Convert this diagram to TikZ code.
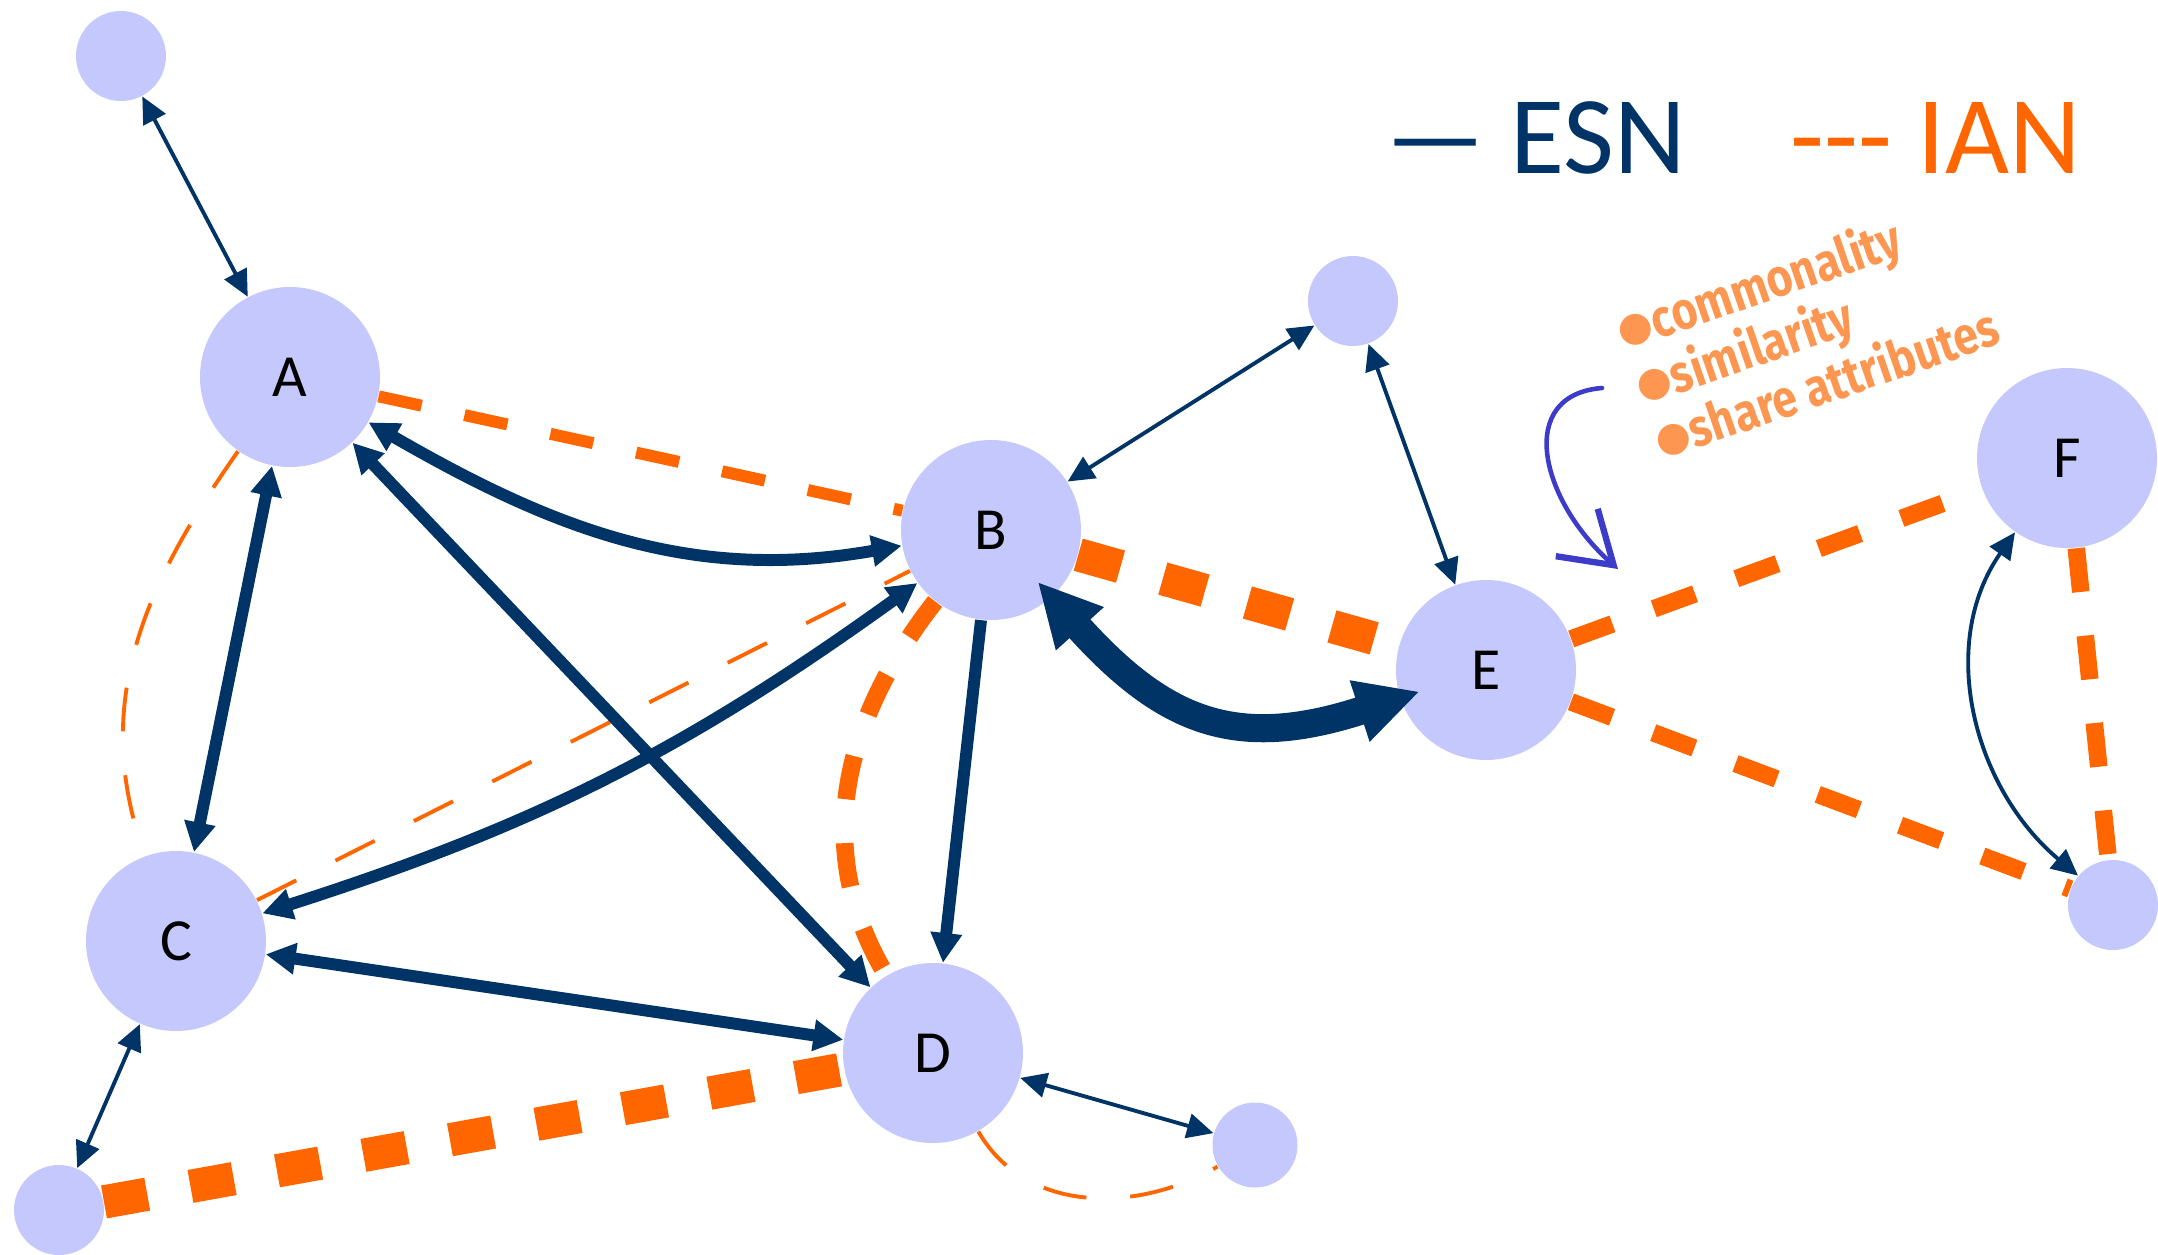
\documentclass[tikz,border=0pt]{standalone}
\usepackage{fontspec}
\setmainfont{Carlito}
\newfontfamily\notefont[FakeStretch=0.84]{Fira Sans}
\newfontfamily\dotfont{DejaVu Sans}
\usepackage{tikz}
\usetikzlibrary{arrows.meta,backgrounds}
\definecolor{snNavy}  {RGB}{  0, 51,102}
\definecolor{snOrange}{RGB}{255,102,  0}
\definecolor{snNode}  {RGB}{197,200,253}
\definecolor{snNote}  {RGB}{253,150, 80}
\definecolor{snPen}   {RGB}{ 60, 60,200}
\newcommand{\notedot}{\raisebox{0.1em}{\dotfont\fontsize{11.5}{11}\selectfont ●}}

\begin{document}
\begin{tikzpicture}[
  every node/.style={font=\fontsize{17}{20}\selectfont},
  actor/.style={circle,fill=snNode,inner sep=0pt,minimum size=1.8cm},
  leaf/.style={actor,minimum size=0.9cm},
  esnthin/.style={draw=snNavy,line width=1.1pt,<->,
                  >={Triangle[length=7.5pt,width=7pt]}},
  esn/.style={draw=snNavy,line width=3.4pt,<->,
              >={Triangle[length=8.5pt,width=8.5pt]}},
  esnfat/.style={draw=snNavy,line width=8pt,<->,
                 >={Triangle[length=18pt,width=17pt]},
                 shorten <=-6pt,shorten >=-6pt},
  ian/.style={draw=snOrange,dash pattern=on 12.5pt off 12.5pt,line width=3.4pt},
  ianthin/.style={ian,line width=1.1pt},
  ianmid/.style={ian,line width=5pt},
  ianfat/.style={ian,line width=9.5pt},
  legend/.style={font=\fontsize{31.5}{36}\selectfont,anchor=base west,inner sep=0pt},
  note/.style={text=snNote,align=left,inner sep=0pt,
               font=\notefont\bfseries\fontsize{15}{15}\selectfont},
  pen/.style={draw=snPen,line width=1.3pt,line cap=round,
              -{Straight Barb[length=14pt,width=18pt,line width=1.8pt]}}
]
\useasboundingbox (0,0) rectangle (21.58,-12.55);
% legend
\node[legend,text=snNavy]   (esnkey) at (13.85,-1.73) {— ESN};
\node[legend,text=snOrange] (iankey) at (17.90,-1.73) {-{}-{}- IAN};
% actors
\node[actor] (A) at (2.90,-3.77)   {A};
\node[actor] (B) at (9.91,-5.30)   {B};
\node[actor] (C) at (1.76,-9.41)   {C};
\node[actor] (D) at (9.33,-10.53)  {D};
\node[actor] (E) at (14.86,-6.70)  {E};
\node[actor] (F) at (20.67,-4.58)  {F};
\node[leaf]  (lA)  at (1.21,-0.56)  {};
\node[leaf]  (lBE) at (13.53,-3.01) {};
\node[leaf]  (lF)  at (21.13,-9.05) {};
\node[leaf]  (lC)  at (0.59,-12.10) {};
\node[leaf,minimum size=0.85cm] (lD) at (12.55,-11.45) {};
% IAN links, behind the actors
\begin{scope}[on background layer]
\draw[ian]     (A) -- (B);
\draw[ianthin] (A) to[out=-125,in=110] (C);
\draw[ianthin] (C) -- (B);
\draw[ianmid]  (B) to[out=-128,in=121] (D);
\draw[ianfat]  (B) -- (E);
\draw[ianfat]  (lC) -- (D);
\draw[ianmid]  (E) -- (F);
\draw[ianmid]  (E) -- (lF);
\draw[ianmid]  (F) -- (lF);
\draw[ianthin] (D) to[out=-60,in=210] (lD);
\end{scope}
% ESN links
\draw[esnthin] (lA) -- (A);
\draw[esnthin] (lBE) -- (B);
\draw[esnthin] (lBE) -- (E);
\draw[esnthin] (lC) -- (C);
\draw[esnthin] (D) -- (lD);
\draw[esnthin] (F) to[out=-125,in=140] (lF);
\draw[esn] (A) -- (C);
\draw[esn] (A) to[out=-30,in=190] (B);
\draw[esn] (A) -- (D);
\draw[esn] (C) to[bend right=9] (B);
\draw[esn] (C) -- (D);
\draw[esn,->] (B) -- (D);
\draw[esnfat] (B) to[out=-48,in=198,looseness=1.2] (E);
% note on IAN
\node[note,rotate=19,anchor=west] (attrs) at (16.36,-3.86)
  {\notedot commonality\\\notedot similarity\\\notedot share attributes};
\coordinate (penA) at (16.02,-3.88);
\coordinate (penB) at (16.18,-5.69);
\draw[pen] (penA) .. controls (15.15,-3.95) and (15.40,-5.00) .. (penB);
\end{tikzpicture}
\end{document}
